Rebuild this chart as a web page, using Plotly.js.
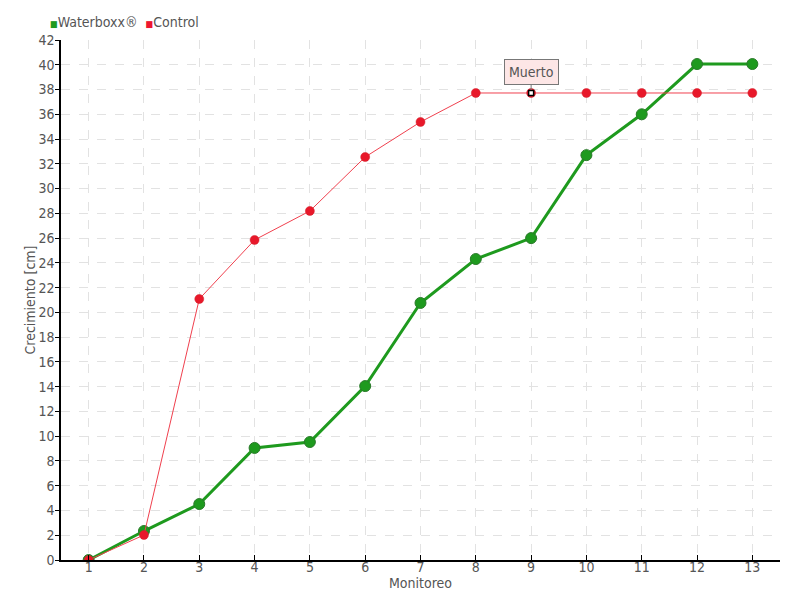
<!DOCTYPE html>
<html><head><meta charset="utf-8">
<script src="https://cdn.plot.ly/plotly-3.0.1.min.js"></script>
<style>body{margin:0;}#c{width:800px;height:600px;}</style>
</head><body><div id="c"></div>
<script>
const monitoreo = [1,2,3,4,5,6,7,8,9,10,11,12,13];
const waterboxx = [0,2.34,4.52,9.05,9.53,14.05,20.76,24.31,26.0,32.7,36.0,40.06,40.06];
const control = [0,2.02,21.08,25.85,28.19,32.55,35.38,37.72,37.72,37.72,37.72,37.72,37.72];
const seriesNames = ['Waterboxx®','Control'];
const seriesColors = ['#1e9a1e','#ee1530'];
const yTicks = [0,2,4,6,8,10,12,14,16,18,20,22,24,26,28,30,32,34,36,38,40,42];
const deadIndex = 8;
const deadLabel = 'Muerto';

const font = "'Liberation Sans Narrow', 'DejaVu Sans Condensed', sans-serif";

const traces = [
  {x: monitoreo, y: waterboxx, mode:'lines+markers', name: seriesNames[0],
   line:{color:'#1e9a1e', width:3}, marker:{color:'#1e9a1e', size:11, line:{color:'#2a7a2a', width:1}}},
  {x: monitoreo, y: control, mode:'lines+markers', name: seriesNames[1],
   line:{color:'#f0404e', width:1},
   marker:{color:'#e8182a', size:9, line:{color:'#d0202a', width:0.5}}},
  {x: [monitoreo[deadIndex]], y: [control[deadIndex]], mode:'markers', name: deadLabel,
   marker:{symbol:'square', color:'#ffffff', size:5, line:{color:'#000', width:1.5}}}
];

const layout = {
  width:800, height:600,
  margin:{l:61, r:20, t:40, b:40, autoexpand:false},
  paper_bgcolor:'#ffffff', plot_bgcolor:'#ffffff',
  font:{family:font, size:14, color:'#555555'},
  showlegend:false,
  xaxis:{range:[0.5,13.5], tickmode:'array', tickvals:monitoreo, ticktext:monitoreo.map(String),
         showgrid:true, gridcolor:'#e2e2e2', griddash:'dash', gridwidth:1,
         showline:true, linecolor:'#000', linewidth:1.5, ticks:'inside', ticklen:5, tickcolor:'#000',
         zeroline:false, tickfont:{size:14, color:'#555'}, ticklabelstandoff:-7,
         title:{text:'Monitoreo', font:{size:14, color:'#555'}, standoff:0}},
  yaxis:{range:[0,42], tickmode:'array', tickvals:yTicks,
         showgrid:true, gridcolor:'#e2e2e2', griddash:'dash', gridwidth:1,
         showline:true, linecolor:'#000', linewidth:1.5, ticks:'outside', ticklen:4, tickcolor:'#000',
         zeroline:false, tickfont:{size:14, color:'#555'}, ticklabelstandoff:-2,
         title:{text:'Crecimiento [cm]', font:{size:14, color:'#555'}, standoff:0}},
  annotations:[
   {x: monitoreo[deadIndex], y: control[deadIndex], xref:'x', yref:'y', text: deadLabel,
    showarrow:true, arrowhead:0, arrowwidth:1, arrowcolor:'#777', ax:0, ay:-21, standoff:3,
    bgcolor:'#fde6e6', bordercolor:'#777', borderwidth:1, borderpad:4,
    font:{size:14, color:'#555', family:font}},
   {xref:'paper', yref:'paper', x:-0.018, y:1.0, xanchor:'left', yanchor:'bottom', yshift:8, showarrow:false,
    text:"<span style='color:"+seriesColors[0]+"; font-size:9px'>■</span>"+seriesNames[0]+"  <span style='color:"+seriesColors[1]+"; font-size:9px'>■</span>"+seriesNames[1],
    font:{size:14, color:'#555', family:font}}
  ]
};
Plotly.newPlot('c', traces, layout, {displayModeBar:false});
</script></body></html>
